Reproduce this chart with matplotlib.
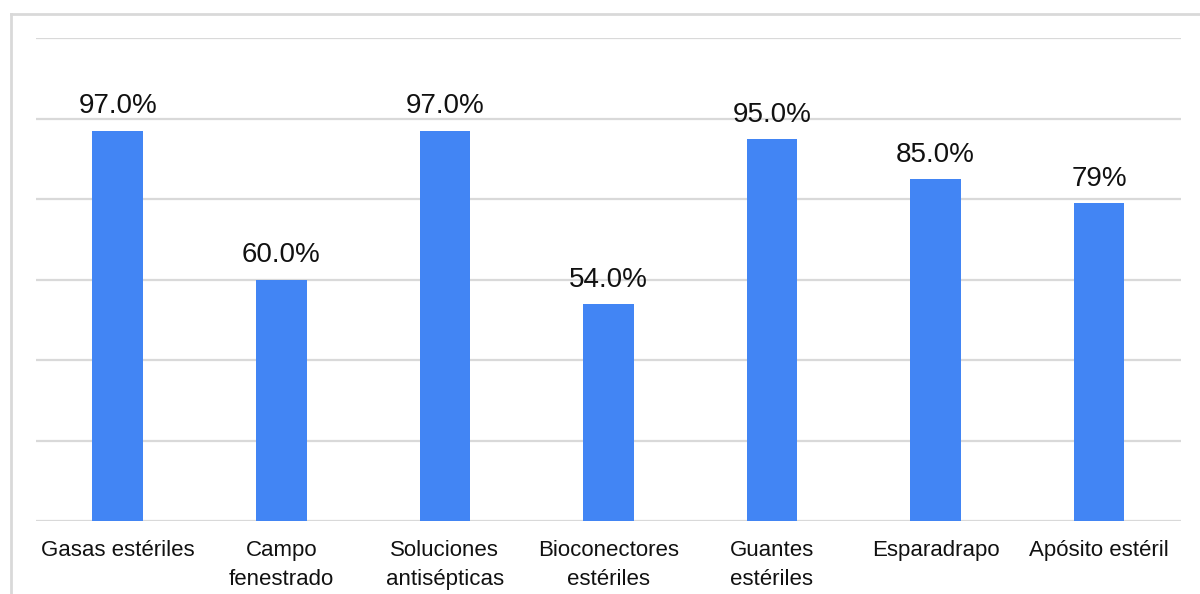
import matplotlib.pyplot as plt
from matplotlib.lines import Line2D

plt.rcParams['font.family'] = ['Liberation Sans', 'DejaVu Sans']

categories = ['Gasas estériles', 'Campo\nfenestrado', 'Soluciones\nantisépticas',
              'Bioconectores\nestériles', 'Guantes\nestériles', 'Esparadrapo',
              'Apósito estéril']
values = [97.0, 60.0, 97.0, 54.0, 95.0, 85.0, 79.0]
decimals = [1, 1, 1, 1, 1, 1, 0]

bar_color = '#4285f4'
grid_color = '#d9d9d9'
text_color = '#111111'

fig = plt.figure(figsize=(12, 5.94), dpi=100)
ax = fig.add_axes([0.03, 0.1229, 0.954, 0.8131])

x = range(len(categories))
bars = ax.bar(x, values, width=0.31, color=bar_color, zorder=3)
for b, v, d in zip(bars, values, decimals):
    ax.annotate(f'{v:.{d}f}%', (b.get_x() + b.get_width() / 2, v),
                xytext=(0, 8), textcoords='offset points',
                ha='center', va='bottom', fontsize=20, color=text_color)

ax.set_ylim(0, 120)
ax.set_yticks(range(0, 121, 20))
ax.set_xlim(-0.5, len(categories) - 0.5)
ax.yaxis.grid(True, color=grid_color, lw=1.6)
ax.set_yticklabels([])
ax.tick_params(axis='y', length=0)
ax.set_xticks(list(x))
ax.set_xticklabels(categories, fontsize=16, linespacing=1.45, color=text_color)
ax.tick_params(axis='x', length=0, pad=14)
for s in ax.spines.values():
    s.set_visible(False)

# outer frame (top and left edges only)
fx, fy = 11 / 1200, 1 - 14 / 594
fig.add_artist(Line2D([fx, 1], [fy, fy], color=grid_color, lw=2))
fig.add_artist(Line2D([fx, fx], [0, fy], color=grid_color, lw=2))

fig.savefig('out.png', dpi=100, facecolor='white')
